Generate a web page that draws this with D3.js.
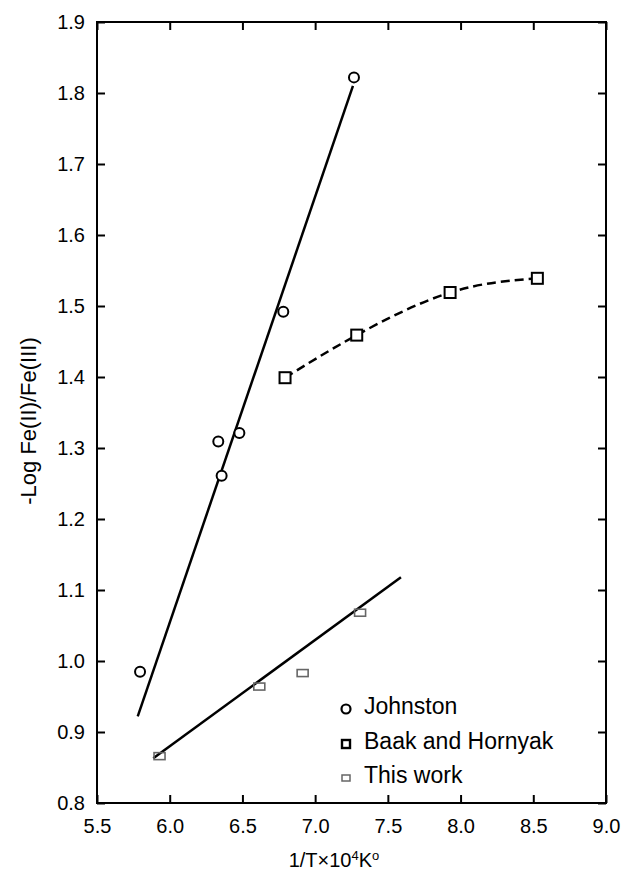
<!DOCTYPE html>
<meta charset='utf-8'>
<style>
    body { margin: 0; background: #fff; }
    svg { display: block; font-family: 'Liberation Sans', Arial, sans-serif; }
</style>
<body>
    <script src='https://d3js.org/d3.v7.min.js'></script>
    <script>
        var width = 621,
            height = 873;

        var margin = { top: 22, right: 15, bottom: 70, left: 97 };

        // Johnston (circles) and its fitted line
        var johnstonX = [5.796, 6.334, 6.357, 6.479, 6.781, 7.267];
        var johnstonY = [0.985, 1.309, 1.261, 1.321, 1.492, 1.822];
        var johnstonFitX = [5.78, 7.26];
        var johnstonFitY = [0.922, 1.810];

        // Baak and Hornyak (squares) with a smooth dashed curve
        var baakX = [6.793, 7.286, 7.928, 8.528];
        var baakY = [1.399, 1.459, 1.519, 1.539];

        // This work (small gray rectangles) and its fitted line
        var workX = [5.93, 6.616, 6.914, 7.309];
        var workY = [0.866, 0.964, 0.983, 1.068];
        var workFitX = [5.887, 7.59];
        var workFitY = [0.863, 1.118];

        var xTicks = [5.5, 6.0, 6.5, 7.0, 7.5, 8.0, 8.5, 9.0];
        var yTicks = [0.8, 0.9, 1.0, 1.1, 1.2, 1.3, 1.4, 1.5, 1.6, 1.7, 1.8, 1.9];

        var legendLabels = ['Johnston', 'Baak and Hornyak', 'This work'];

        function zip(xs, ys) {
            return xs.map(function(d, i) { return [d, ys[i]]; });
        }

        var svg = d3.select('body').append('svg')
            .attr('width', width)
            .attr('height', height);

        var x = d3.scaleLinear().domain([5.5, 9.0]).range([margin.left, width - margin.right]);
        var y = d3.scaleLinear().domain([0.8, 1.9]).range([height - margin.bottom, margin.top]);

        var tickLen = 8;
        var fmt = d3.format('.1f');

        // axes, ticks pointing inward on all four sides
        svg.append('g')
            .attr('transform', 'translate(0,' + y(0.8) + ')')
            .call(d3.axisBottom(x).tickValues(xTicks).tickFormat(fmt).tickSizeInner(-tickLen).tickSizeOuter(0).tickPadding(16))
            .call(function(g) {
                g.select('.domain').remove();
                g.selectAll('text').attr('font-size', 20).attr('fill', '#000').attr('font-family', 'inherit');
            });
        svg.append('g')
            .attr('transform', 'translate(0,' + y(1.9) + ')')
            .call(d3.axisTop(x).tickValues(xTicks).tickFormat('').tickSizeInner(-tickLen).tickSizeOuter(0))
            .call(function(g) { g.select('.domain').remove(); });
        svg.append('g')
            .attr('transform', 'translate(' + x(5.5) + ',0)')
            .call(d3.axisLeft(y).tickValues(yTicks).tickFormat(fmt).tickSizeInner(-tickLen).tickSizeOuter(0).tickPadding(12))
            .call(function(g) {
                g.select('.domain').remove();
                g.selectAll('text').attr('font-size', 20).attr('fill', '#000').attr('font-family', 'inherit');
            });
        svg.append('g')
            .attr('transform', 'translate(' + x(9.0) + ',0)')
            .call(d3.axisRight(y).tickValues(yTicks).tickFormat('').tickSizeInner(-tickLen).tickSizeOuter(0))
            .call(function(g) { g.select('.domain').remove(); });
        svg.selectAll('.tick line').attr('stroke', '#000').attr('stroke-width', 2);

        svg.append('rect')
            .attr('x', x(5.5)).attr('y', y(1.9))
            .attr('width', x(9.0) - x(5.5)).attr('height', y(0.8) - y(1.9))
            .attr('fill', 'none').attr('stroke', '#000').attr('stroke-width', 2);

        // axis titles
        var xt = svg.append('text')
            .attr('x', 334).attr('y', 867)
            .attr('text-anchor', 'middle')
            .attr('font-size', 20);
        xt.append('tspan').text('1/T\u00d710');
        xt.append('tspan').attr('font-size', 13).attr('dy', -7).text('4');
        xt.append('tspan').attr('dy', 7).text('K');
        xt.append('tspan').attr('font-size', 13).attr('dy', -7).text('o');

        svg.append('text')
            .attr('transform', 'translate(36,421) rotate(-90)')
            .attr('text-anchor', 'middle')
            .attr('font-size', 22)
            .text('-Log Fe(II)/Fe(III)');

        var line = d3.line()
            .x(function(d) { return x(d[0]); })
            .y(function(d) { return y(d[1]); });

        // fitted lines
        svg.append('path')
            .datum(zip(johnstonFitX, johnstonFitY))
            .attr('d', line)
            .attr('fill', 'none').attr('stroke', '#000').attr('stroke-width', 2.5);

        svg.append('path')
            .datum(zip(workFitX, workFitY))
            .attr('d', line)
            .attr('fill', 'none').attr('stroke', '#000').attr('stroke-width', 2.5);

        svg.append('path')
            .datum(zip(baakX, baakY))
            .attr('d', line.curve(d3.curveNatural))
            .attr('fill', 'none').attr('stroke', '#000').attr('stroke-width', 2.5)
            .attr('stroke-dasharray', '9,5');

        // markers
        svg.selectAll('circle.johnston')
            .data(zip(johnstonX, johnstonY))
            .enter().append('circle')
            .attr('class', 'johnston')
            .attr('cx', function(d) { return x(d[0]); })
            .attr('cy', function(d) { return y(d[1]); })
            .attr('r', 5)
            .attr('fill', '#fff').attr('stroke', '#000').attr('stroke-width', 2);

        svg.selectAll('rect.baak')
            .data(zip(baakX, baakY))
            .enter().append('rect')
            .attr('class', 'baak')
            .attr('x', function(d) { return x(d[0]) - 5.5; })
            .attr('y', function(d) { return y(d[1]) - 5.5; })
            .attr('width', 11).attr('height', 11)
            .attr('fill', '#fff').attr('stroke', '#000').attr('stroke-width', 2);

        svg.selectAll('rect.work')
            .data(zip(workX, workY))
            .enter().append('rect')
            .attr('class', 'work')
            .attr('x', function(d) { return x(d[0]) - 5.5; })
            .attr('y', function(d) { return y(d[1]) - 3.5; })
            .attr('width', 11).attr('height', 7)
            .attr('fill', 'none').attr('stroke', '#666').attr('stroke-width', 1.6);

        // legend
        var legend = svg.append('g');
        var ly = [709, 744, 778];
        legend.append('circle')
            .attr('cx', 346).attr('cy', ly[0]).attr('r', 4.5)
            .attr('fill', '#fff').attr('stroke', '#000').attr('stroke-width', 2.2);
        legend.append('rect')
            .attr('x', 342).attr('y', ly[1] - 4).attr('width', 8).attr('height', 8)
            .attr('fill', '#fff').attr('stroke', '#000').attr('stroke-width', 2.4);
        legend.append('rect')
            .attr('x', 342).attr('y', ly[2] - 3).attr('width', 8).attr('height', 6)
            .attr('fill', '#fff').attr('stroke', '#666').attr('stroke-width', 1.5);
        legend.selectAll('text')
            .data(legendLabels)
            .enter().append('text')
            .attr('x', 364)
            .attr('y', function(d, i) { return ly[i] + 5; })
            .attr('font-size', 23)
            .text(function(d) { return d; });
    </script>
</body>
